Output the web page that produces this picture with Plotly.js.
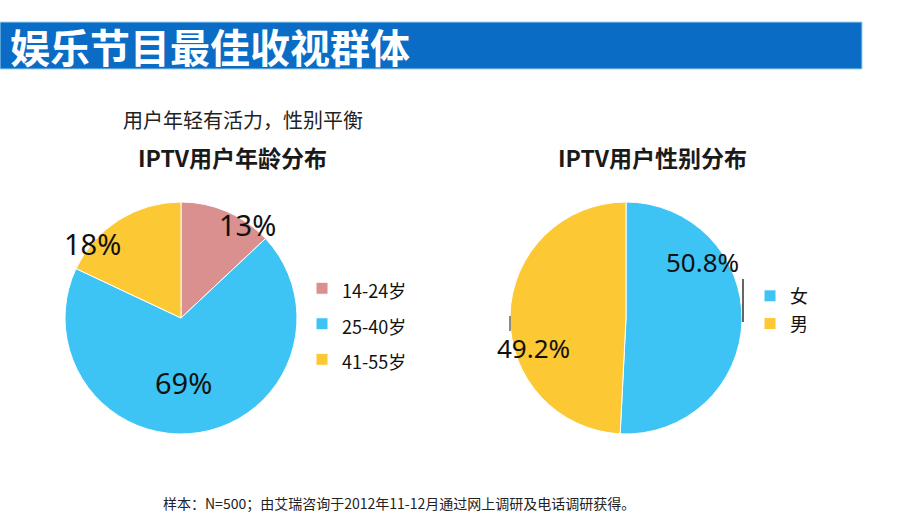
<!DOCTYPE html>
<html><head><meta charset="utf-8">
<script src="https://cdn.plot.ly/plotly-3.0.1.min.js"></script>
<style>html,body{margin:0;padding:0;background:#fff}#chart{width:920px;height:518px}</style>
</head><body><div id="chart"></div>
<script>
// ---- data ----
const pageTitle = '娱乐节目最佳收视群体';
const subTitle = '用户年轻有活力，性别平衡';
const ageTitle = 'IPTV用户年龄分布';
const genderTitle = 'IPTV用户性别分布';
const footNote = '样本：N=500；由艾瑞咨询于2012年11-12月通过网上调研及电话调研获得。';
const ageLabels = ['14-24岁', '25-40岁', '41-55岁'];
const ageValues = [13, 69, 18];
const genderLabels = ['女', '男'];
const genderValues = [50.8, 49.2];

// ---- styles ----
const ageColors = ['#D9908F', '#3DC4F4', '#FCC833'];
const genderColors = ['#3DC4F4', '#FCC833'];
const cjk = '"Noto Sans CJK SC", "Noto Sans", sans-serif';
const num = '"Noto Sans", "Open Sans", sans-serif';
const W = 920, H = 518;
const px = x => x / W, py = y => 1 - y / H;

const legendLabel = l => '<span style="font-size:18px">' + l + '</span>';

const traces = [
  {
    type: 'pie', labels: ageLabels.map(legendLabel), values: ageValues,
    marker: {colors: ageColors, line: {color: '#ffffff', width: 1}},
    sort: false, direction: 'clockwise', rotation: 0,
    textinfo: 'none', hoverinfo: 'skip',
    domain: {x: [px(65), px(297)], y: [py(434), py(202)]},
    legend: 'legend'
  },
  {
    type: 'pie', labels: genderLabels.map(legendLabel), values: genderValues,
    marker: {colors: genderColors, line: {color: '#ffffff', width: 1}},
    sort: false, direction: 'clockwise', rotation: 0,
    textinfo: 'none', hoverinfo: 'skip',
    domain: {x: [px(509), px(743)], y: [py(434), py(202)]},
    legend: 'legend2'
  }
];

const fmt = v => (Number.isInteger(v) ? v : v.toFixed(1)) + '%';
const ageLabelPos = [[247, 224], [183, 382], [92, 244]];
const genderLabelPos = [[702, 262], [533, 348]];

const annotations = [
  {text: pageTitle, x: px(8), y: py(46), xref: 'paper', yref: 'paper', xanchor: 'left', yanchor: 'middle',
   showarrow: false, font: {family: cjk, size: 40, color: '#ffffff', weight: 'bold'}},
  {text: subTitle, x: px(243), y: py(120), xref: 'paper', yref: 'paper', xanchor: 'center', yanchor: 'middle',
   showarrow: false, font: {family: cjk, size: 20, color: '#222222'}},
  {text: '<b>' + ageTitle + '</b>', x: px(232), y: py(157), xref: 'paper', yref: 'paper', xanchor: 'center', yanchor: 'middle',
   showarrow: false, font: {family: cjk, size: 23, color: '#1a1a1a'}},
  {text: '<b>' + genderTitle + '</b>', x: px(652), y: py(157), xref: 'paper', yref: 'paper', xanchor: 'center', yanchor: 'middle',
   showarrow: false, font: {family: cjk, size: 23, color: '#1a1a1a'}},
  {text: footNote, x: px(399), y: py(503), xref: 'paper', yref: 'paper', xanchor: 'center', yanchor: 'middle',
   showarrow: false, font: {family: cjk, size: 14, color: '#222222'}}
];
ageValues.forEach((v, i) => annotations.push({
  text: fmt(v), x: px(ageLabelPos[i][0]), y: py(ageLabelPos[i][1]), xref: 'paper', yref: 'paper',
  xanchor: 'center', yanchor: 'middle', showarrow: false, font: {family: num, size: 29, color: '#111111'}
}));
genderValues.forEach((v, i) => annotations.push({
  text: fmt(v), x: px(genderLabelPos[i][0]), y: py(genderLabelPos[i][1]), xref: 'paper', yref: 'paper',
  xanchor: 'center', yanchor: 'middle', showarrow: false, font: {family: num, size: 26, color: '#111111'}
}));

const layout = {
  width: W, height: H, margin: {l: 0, r: 0, t: 0, b: 0},
  paper_bgcolor: '#ffffff', plot_bgcolor: '#ffffff',
  showlegend: true,
  legend: {x: px(302), y: py(324), xanchor: 'left', yanchor: 'middle', bgcolor: 'rgba(0,0,0,0)',
    font: {family: cjk, size: 25, color: '#111111'}, itemwidth: 30, traceorder: 'normal'},
  legend2: {x: px(750), y: py(310), xanchor: 'left', yanchor: 'middle', bgcolor: 'rgba(0,0,0,0)',
    font: {family: cjk, size: 19, color: '#111111'}, itemwidth: 30, traceorder: 'normal'},
  shapes: [
    {type: 'rect', xref: 'paper', yref: 'paper', x0: 0, x1: px(862), y0: py(69), y1: py(22),
     fillcolor: '#0A6CC4', line: {color: '#9ED6F2', width: 1}, layer: 'below'},
    {type: 'line', xref: 'paper', yref: 'paper', x0: px(743), x1: px(743), y0: py(279), y1: py(322),
     line: {color: '#333333', width: 1.5}},
    {type: 'line', xref: 'paper', yref: 'paper', x0: px(510), x1: px(510), y0: py(316), y1: py(331),
     line: {color: '#666666', width: 1.5}}
  ],
  annotations: annotations
};

Plotly.newPlot('chart', traces, layout, {displayModeBar: false, staticPlot: true});
</script>
</body></html>
